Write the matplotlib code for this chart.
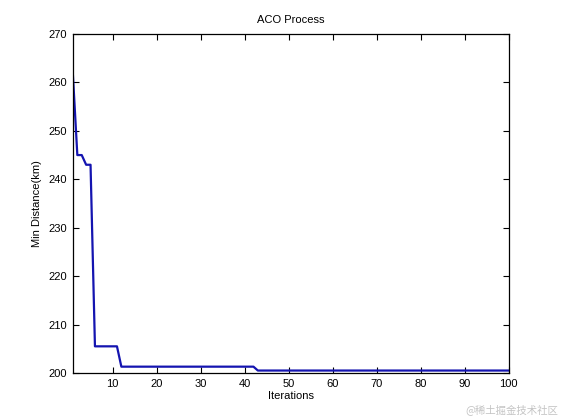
import matplotlib
matplotlib.use("Agg")
import matplotlib.pyplot as plt

# best (minimum) distance per iteration
iterations = list(range(1, 101))
min_distance = ([261.5, 245.0, 245.0, 243.0, 243.0]
                + [205.5] * 6
                + [201.3] * 31
                + [200.5] * 58)

x_ticks = [10, 20, 30, 40, 50, 60, 70, 80, 90, 100]
y_ticks = [200, 210, 220, 230, 240, 250, 260, 270]

plt.rcParams['font.family'] = ['Liberation Sans', 'DejaVu Sans']

fig = plt.figure(figsize=(5.61, 4.2), dpi=100)
ax = fig.add_axes([0.13, 0.112, 0.777, 0.807])

ax.plot(iterations, min_distance, color='#1414b0', linewidth=1.6)

ax.set_xlim(1, 100)
ax.set_ylim(200, 270)
ax.set_xticks(x_ticks)
ax.set_yticks(y_ticks)
ax.tick_params(direction='in', top=True, right=True, labelsize=8,
               length=4, width=0.8, pad=4)
for side in ['top', 'right', 'left', 'bottom']:
    ax.spines[side].set_linewidth(0.9)

ax.set_title('ACO Process', fontsize=8, pad=8)
ax.set_xlabel('Iterations', fontsize=8, labelpad=2)
ax.set_ylabel('Min Distance(km)', fontsize=8, labelpad=5)

fig.text(0.995, 0.012, '@稀土掘金技术社区', ha='right', va='bottom',
         fontsize=7.5, color='#c4c4c4',
         family=['Noto Sans CJK SC', 'DejaVu Sans'])

fig.savefig('out.png', dpi=100)
